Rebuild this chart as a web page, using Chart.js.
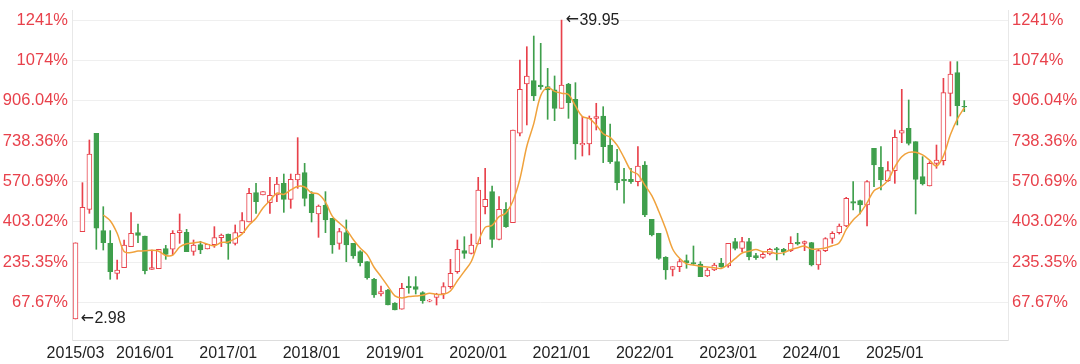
<!DOCTYPE html>
<html><head><meta charset="utf-8">
<script src="https://cdn.jsdelivr.net/npm/chart.js@4.4.0/dist/chart.umd.min.js"></script>
<style>html,body{margin:0;padding:0;background:#fff;}#wrap{width:1080px;height:364px;position:relative;}</style>
</head><body><div id="wrap"><canvas id="c"></canvas></div>
<script>
// Monthly candles, first month 2015/03
const startYear = 2015, startMonth = 3;
const openP  = [2.98,13.78,16.54,25.94,13.91,12.34,8.63,9.33,11.93,13.66,13.25,9.12,9.21,11.68,11.6,13.66,13.7,11.35,12.17,11.64,12.17,13.04,13.49,12.34,13.66,14.98,18.61,18.32,17.37,18.32,19.76,17.78,20.17,21.08,18.4,15.97,17.04,15.43,12.34,13.66,12.34,11.31,10.07,7.89,6.07,6.57,4.92,4.18,7.06,6.98,6.24,5.17,5.66,6.07,6.98,8.83,11.43,11.1,12.26,16.87,18.73,12.83,16.54,14.9,25.95,32.05,32.46,31.92,31.72,31.31,29.04,32.05,30.15,24.5,24.63,27.8,28.09,24.5,22.44,20.25,20.25,19.97,22.03,15.31,13.58,10.61,9.12,9.45,10.2,9.95,9.78,8.3,9.04,9.87,9.54,12.55,11.72,12.55,10.81,10.61,11.02,11.68,11.6,11.43,12.46,12.34,12.42,9.66,11.43,12.96,13.66,14.48,17.49,17.62,17.08,24.09,21.74,20.09,21.33,25.95,26.56,24.91,20.59,19.43,22.23,22.56,30.89,33.45,29.28];
const highP  = [12.4,19.84,25.12,25.94,16.87,13.91,10.28,12.75,16.13,14.73,13.25,11.51,11.6,12.09,13.91,15.97,14.07,12.75,12.59,12.22,14.4,13.49,13.49,14.61,16.13,19.14,19.76,18.73,20.5,20.5,20.91,20.91,25.41,22.23,18.73,17.08,18.73,15.43,14.19,15.23,12.34,11.43,10.07,8.01,7.06,6.65,5.0,7.39,8.22,8.22,6.36,5.4,6.16,7.47,10.36,12.75,13.16,13.49,20.5,21.62,19.43,18.11,17.37,26.36,35.02,36.66,37.98,37.08,33.98,33.04,39.95,32.13,32.21,28.01,28.09,29.66,29.24,27.1,23.97,21.62,21.62,24.3,22.44,15.31,13.58,10.69,9.45,10.36,10.9,12.01,10.07,9.25,9.87,10.48,12.34,12.96,13.08,12.96,11.1,11.18,11.72,11.84,11.72,13.16,13.58,12.63,12.46,11.6,13.04,13.78,14.73,18.03,19.97,17.7,20.09,24.09,24.3,22.44,26.36,31.39,30.07,24.91,23.06,22.44,24.5,32.75,34.81,34.81,29.99];
const lowP   = [2.98,13.78,16.05,11.6,11.51,7.89,7.89,9.33,11.93,12.42,8.55,9.12,9.21,10.36,10.9,12.34,11.31,10.86,11.06,11.64,11.84,11.93,10.36,12.13,13.66,14.98,16.05,18.32,16.05,17.49,16.17,16.67,19.14,16.96,14.98,13.08,13.66,11.1,11.6,10.07,10.48,9.54,7.89,5.66,5.82,4.71,4.09,4.18,6.16,6.07,4.92,5.1,4.71,5.5,6.77,8.63,10.48,11.02,12.26,15.97,11.84,12.75,14.32,14.9,25.61,26.98,29.99,31.39,27.68,27.51,29.04,27.8,22.73,23.14,23.27,26.36,22.32,22.23,18.94,17.29,19.76,19.43,15.64,13.25,10.36,7.89,8.3,8.83,9.25,9.66,8.22,8.22,8.96,9.37,9.37,11.51,11.31,10.28,10.36,10.48,10.9,10.28,10.9,11.31,12.13,11.43,9.54,9.12,11.31,12.34,13.49,14.4,16.46,15.97,14.48,19.35,18.94,19.97,19.76,24.79,24.5,15.97,19.55,19.43,21.62,22.03,28.09,26.98,28.63];
const closeP = [12.4,16.79,23.39,14.2,12.42,8.83,9.04,12.13,13.58,13.33,8.96,9.33,11.6,10.98,13.58,13.91,11.31,12.13,11.51,12.22,13.04,13.37,12.34,13.66,15.14,18.52,17.49,18.73,18.28,19.68,17.78,20.25,20.91,17.9,16.13,16.96,15.23,12.13,13.78,12.13,10.77,9.95,8.09,5.95,6.36,4.71,4.09,6.77,6.86,6.65,5.25,5.33,6.03,6.98,8.63,11.6,11.1,12.13,18.94,17.78,12.83,16.54,14.4,26.36,31.39,33.04,30.56,31.72,31.31,29.04,31.92,29.74,24.63,24.71,27.8,28.01,24.3,22.44,19.84,20.09,19.97,21.9,15.84,13.37,10.48,9.04,9.45,10.07,9.95,9.78,8.22,9.04,9.66,9.45,12.34,11.72,12.55,10.69,10.57,10.98,11.6,11.51,11.31,12.34,12.26,12.55,9.66,11.43,12.92,13.58,14.48,17.9,17.29,17.08,19.97,22.03,20.17,21.33,25.45,26.27,24.71,20.25,19.68,22.23,22.65,30.97,33.28,29.37,29.2];
const ma5    = [null,null,null,null,15.84,15.13,13.58,11.32,11.2,11.38,11.41,11.47,11.36,10.84,10.89,11.88,12.28,12.38,12.49,12.22,12.04,12.45,12.5,12.93,13.51,14.61,15.43,16.71,17.63,18.54,18.39,18.94,19.38,19.3,18.59,18.43,17.43,15.67,14.85,14.05,12.81,11.75,10.94,9.38,8.22,7.01,5.84,5.58,5.76,5.82,5.92,6.17,6.02,6.05,6.44,7.71,8.87,10.09,12.48,14.31,14.56,15.64,16.1,17.58,20.3,24.35,27.15,30.61,31.6,31.13,30.91,30.75,29.33,28.01,27.76,26.98,25.89,25.45,24.48,22.94,21.33,20.85,19.53,18.23,16.31,14.13,11.64,10.48,9.8,9.66,9.49,9.41,9.33,9.23,9.74,10.44,11.14,11.35,11.57,11.3,11.28,11.07,11.19,11.55,11.8,11.99,11.62,11.65,11.76,12.03,12.41,14.06,15.23,16.07,17.34,18.85,19.31,20.12,21.79,23.05,23.59,23.6,23.27,22.63,21.9,23.16,25.76,27.7,29.09];

const basePrice = 2.98;
const yTickPercents = [67.67,235.35,403.02,570.69,738.36,906.04,1074,1241];
const yTickLabels = ['67.67%','235.35%','403.02%','570.69%','738.36%','906.04%','1074%','1241%'];
const xTickLabels = ['2015/03','2016/01','2017/01','2018/01','2019/01','2020/01','2021/01','2022/01','2023/01','2024/01','2025/01'];

const months = [];
for (let i = 0; i < openP.length; i++) {
  const m = startMonth - 1 + i;
  months.push(String(startYear + Math.floor(m / 12)) + '/' + String(m % 12 + 1).padStart(2, '0'));
}
const xTickIdx = xTickLabels.map(l => months.indexOf(l));
const yTickValues = yTickPercents.map(p => basePrice * (1 + p / 100));

const RED = '#e8414b', GREEN = '#3f9f4c', ORANGE = '#f0a23c';
const FONT = '"Liberation Sans", Arial, Helvetica, sans-serif';
const up = closeP.map((c, i) => c >= openP[i]);
const bodyFill = up.map(u => u ? '#ffffff' : GREEN);
const candleColor = up.map(u => u ? RED : GREEN);

function drawMark(ctx, x, y, text) {
  ctx.font = '16px "DejaVu Sans", sans-serif';
  ctx.fillText('\u2190', x, y);
  const w = ctx.measureText('\u2190').width;
  ctx.font = '16px ' + FONT;
  ctx.fillText(text, x + w + 0.5, y);
}

const markPlugin = {
  id: 'marks',
  afterDatasetsDraw(chart) {
    const ctx = chart.ctx, xs = chart.scales.x, ys = chart.scales.y;
    let hi = 0, lo = 0;
    for (let i = 0; i < highP.length; i++) {
      if (highP[i] > highP[hi]) hi = i;
      if (lowP[i] < lowP[lo]) lo = i;
    }
    ctx.save();
    ctx.fillStyle = '#222';
    ctx.textBaseline = 'middle';
    ctx.textAlign = 'left';
    drawMark(ctx, xs.getPixelForValue(hi) + 4, ys.getPixelForValue(highP[hi]), highP[hi].toFixed(2));
    drawMark(ctx, xs.getPixelForValue(lo) + 5, ys.getPixelForValue(lowP[lo]), lowP[lo].toFixed(2));
    ctx.restore();
  }
};

function yAxis(pos, withGrid) {
  return {
    position: pos, min: 0.38, max: 41.2,
    grid: { display: withGrid, color: '#efefef', drawTicks: false },
    border: { display: true, color: '#e8e8e8' },
    afterBuildTicks: s => { s.ticks = yTickValues.map(v => ({ value: v })); },
    ticks: { color: RED, padding: 4, font: { size: 16.5, family: FONT }, callback: (v, i) => yTickLabels[i] },
    afterFit: s => { s.width = 72; s.paddingTop = 0; s.paddingBottom = 0; }
  };
}

new Chart(document.getElementById('c'), {
  type: 'bar',
  data: {
    datasets: [
      { type: 'line', label: 'MA5', data: ma5.map((v, i) => ({ x: i, y: v })), borderColor: ORANGE, borderWidth: 1.5,
        pointRadius: 0, tension: 0.35, fill: false, order: 0 },
      { label: 'body', data: openP.map((o, i) => ({ x: i, y: [o, closeP[i]] })), backgroundColor: bodyFill,
        borderColor: candleColor, borderWidth: 1, borderSkipped: false, barThickness: 5, grouped: false, order: 1 },
      { label: 'wick', data: lowP.map((l, i) => ({ x: i, y: [l, highP[i]] })), backgroundColor: candleColor,
        borderWidth: 0, barThickness: 1, grouped: false, order: 2 }
    ]
  },
  options: {
    responsive: true, maintainAspectRatio: false, animation: false, events: [],
    layout: { padding: { top: 10, left: 0, right: 0, bottom: 0 } },
    plugins: { legend: { display: false }, tooltip: { enabled: false } },
    scales: {
      x: {
        type: 'linear', min: -0.504, max: 134.3, offset: false,
        grid: { display: false, offset: false, drawTicks: false },
        border: { display: true, color: '#dddddd', width: 1 },
        afterBuildTicks: s => { s.ticks = xTickIdx.map(v => ({ value: v })); },
        ticks: { autoSkip: false, maxRotation: 0, padding: 4, color: '#222', font: { size: 16, family: FONT },
                 callback: v => months[v] },
        afterFit: s => { s.height = 24; s.paddingLeft = 0; s.paddingRight = 0; }
      },
      y: yAxis('left', true),
      y1: yAxis('right', false)
    }
  },
  plugins: [markPlugin]
});
</script>
</body></html>
